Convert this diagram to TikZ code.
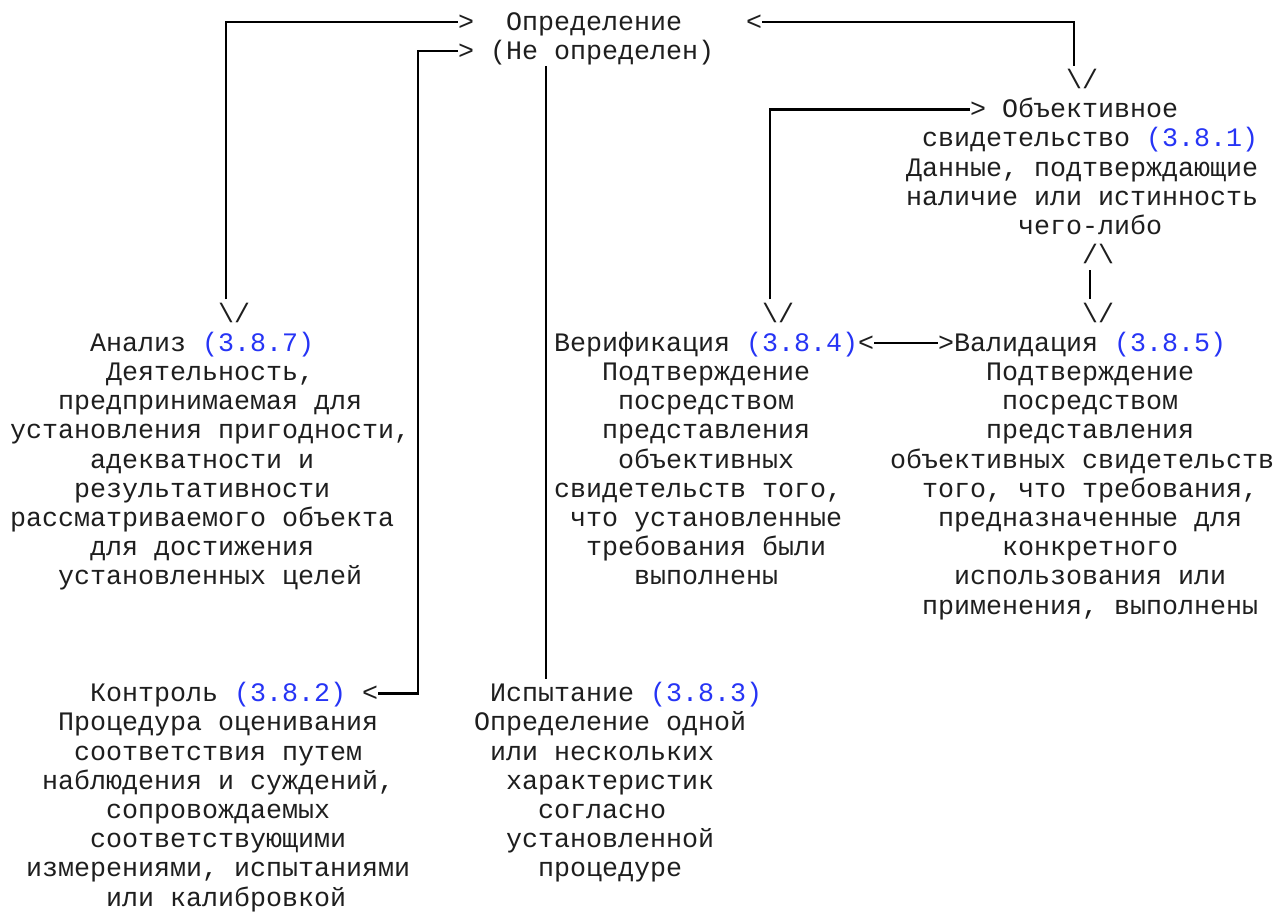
\documentclass[tikz,border=0pt]{standalone}
\usepackage{fontspec}
\setmonofont{Liberation Mono}
\definecolor{refblue}{RGB}{38,52,245}
\definecolor{inkgray}{RGB}{30,30,30}
\newcommand{\diagfont}{\ttfamily\fontsize{26.667pt}{29.2pt}\selectfont}
\newcommand{\refn}[1]{\textcolor{refblue}{#1}}
\tikzset{
  txt/.style={inner sep=0pt, outer sep=0pt, text height=22.6pt, text depth=6.6pt, anchor=west, font=\diagfont, text=inkgray},
  ln/.style={line width=2.3pt, draw=black}
}
\begin{document}
\begin{tikzpicture}[x=16pt, y=-29.2pt]
\useasboundingbox (0,0) rectangle (79.6875,31.2671);
\begin{scope}[shift={(0.625,0.7534)}]
% top
\node[txt] (def) at (31,0) {Определение};
\node[txt] (nd) at (30,1) {(Не определен)};
\node[txt] (aL0) at (28,0) {>};
\node[txt] (aL1) at (28,1) {>};
\node[txt] (aR0) at (46,0) {<};
\node[txt] (dn0) at (66,2) {\textbackslash/};
% objective evidence
\node[txt] (aOb) at (60,3) {>};
\node[txt] (ob1) at (62,3) {Объективное};
\node[txt] (ob2) at (57,4) {свидетельство \refn{(3.8.1)}};
\node[txt] (ob3) at (56,5) {Данные, подтверждающие};
\node[txt] (ob4) at (56,6) {наличие или истинность};
\node[txt] (ob5) at (63,7) {чего-либо};
\node[txt] (up8) at (67,8) {/\textbackslash};
% arrowheads row 10
\node[txt] (dnA) at (13,10) {\textbackslash/};
\node[txt] (dnV) at (47,10) {\textbackslash/};
\node[txt] (dnW) at (67,10) {\textbackslash/};
% row 11 headings
\node[txt] (an) at (5,11) {Анализ \refn{(3.8.7)}};
\node[txt] (ver) at (34,11) {Верификация \refn{(3.8.4)}};
\node[txt] (aV) at (53,11) {<};
\node[txt] (aW) at (58,11) {>};
\node[txt] (val) at (59,11) {Валидация \refn{(3.8.5)}};
% Analysis block
\foreach \cc/\tx [count=\i from 12] in {6/{Деятельность,}, 3/{предпринимаемая для}, 0/{установления пригодности,}, 5/{адекватности и}, 4/{результативности}, 0/{рассматриваемого объекта}, 5/{для достижения}, 3/{установленных целей}}
  \node[txt] (an\i) at (\cc,\i) {\tx};
% Verification block
\foreach \cc/\tx [count=\i from 12] in {37/{Подтверждение}, 38/{посредством}, 37/{представления}, 38/{объективных}, 34/{свидетельств того,}, 35/{что установленные}, 36/{требования были}, 39/{выполнены}}
  \node[txt] (ver\i) at (\cc,\i) {\tx};
% Validation block
\foreach \cc/\tx [count=\i from 12] in {61/{Подтверждение}, 62/{посредством}, 61/{представления}, 55/{объективных свидетельств}, 57/{того, что требования,}, 58/{предназначенные для}, 62/{конкретного}, 59/{использования или}, 57/{применения, выполнены}}
  \node[txt] (val\i) at (\cc,\i) {\tx};
% bottom headings
\node[txt] (kon) at (5,23) {Контроль \refn{(3.8.2)}};
\node[txt] (aK) at (22,23) {<};
\node[txt] (isp) at (30,23) {Испытание \refn{(3.8.3)}};
\foreach \cc/\tx [count=\i from 24] in {3/{Процедура оценивания}, 4/{соответствия путем}, 2/{наблюдения и суждений,}, 6/{сопровождаемых}, 5/{соответствующими}, 1/{измерениями, испытаниями}, 6/{или калибровкой}}
  \node[txt] (kon\i) at (\cc,\i) {\tx};
\foreach \cc/\tx [count=\i from 24] in {29/{Определение одной}, 30/{или нескольких}, 31/{характеристик}, 33/{согласно}, 31/{установленной}, 33/{процедуре}}
  \node[txt] (isp\i) at (\cc,\i) {\tx};
% connectors
\coordinate (kv) at (25.5,12);
\draw[ln] ([xshift=8pt]dnA.north west) |- (aL0.west);
\draw[ln] (aR0.east) -| ([xshift=8pt]dn0.north west);
\draw[ln] (aL1.west) -| (kv) |- (aK.east);
\draw[ln] ([xshift=56pt]nd.south west) -- ([xshift=56pt]isp.north west);
\draw[ln] ([xshift=8pt]dnV.north west) |- (aOb.west);
\draw[ln] ([xshift=8pt]up8.south west) -- ([xshift=8pt]dnW.north west);
\draw[ln] (aV.east) -- (aW.west);
\end{scope}
\end{tikzpicture}
\end{document}
